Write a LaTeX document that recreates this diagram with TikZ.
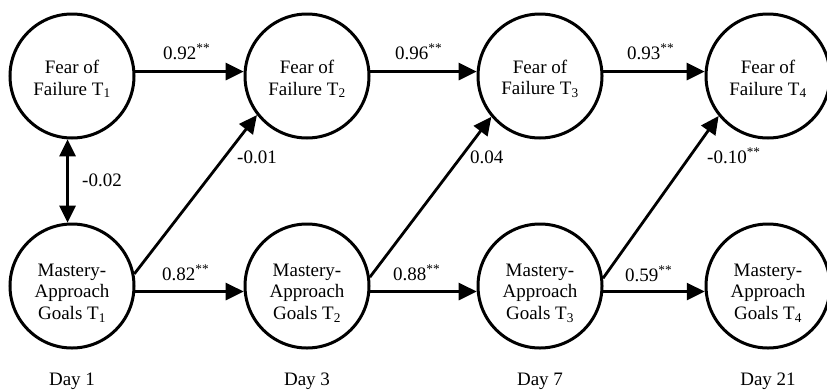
\documentclass[tikz,border=0pt]{standalone}
\usepackage{fontspec}
\setmainfont{Liberation Serif}
\usetikzlibrary{arrows.meta}
\begin{document}
\begin{tikzpicture}[x=1pt,y=-1pt,
  var/.style={circle, draw, line width=3pt, minimum size=124pt, inner sep=0pt},
  txt/.style={align=center, inner sep=0pt, font=\fontsize{19}{21.5}\selectfont},
  lbl/.style={font=\fontsize{19}{21.5}\selectfont, inner sep=0pt},
  conn/.style={line width=2.8pt, -{Triangle[length=18pt,width=17pt]}},
  dconn/.style={line width=2.8pt, {Triangle[length=17pt,width=16pt]}-{Triangle[length=17pt,width=16pt]}},
  ]
\useasboundingbox (0,0) rectangle (827,389);
% circles
\node[var] (t1) at (72,76) {};
\node[var] (t2) at (307,76) {};
\node[var] (t3) at (540,76) {};
\node[var] (t4) at (768,76) {};
\node[var] (b1) at (72,286) {};
\node[var] (b2) at (307,286) {};
\node[var] (b3) at (540,286) {};
\node[var] (b4) at (768,286) {};
% texts
\node[txt] (t1x) at (72,79) {Fear of\\Failure T\textsubscript{1}};
\node[txt] (t2x) at (307,79) {Fear of\\Failure T\textsubscript{2}};
\node[txt] (t3x) at (540,79) {Fear of\\Failure T\textsubscript{3}};
\node[txt] (t4x) at (768,79) {Fear of\\Failure T\textsubscript{4}};
\node[txt] (b1x) at (72,293) {Mastery-\\Approach\\Goals T\textsubscript{1}};
\node[txt] (b2x) at (307,293) {Mastery-\\Approach\\Goals T\textsubscript{2}};
\node[txt] (b3x) at (540,293) {Mastery-\\Approach\\Goals T\textsubscript{3}};
\node[txt] (b4x) at (768,293) {Mastery-\\Approach\\Goals T\textsubscript{4}};
% connectors
\draw[conn] (t1.4) -- (t2.176);
\draw[conn] (t2.4) -- (t3.176);
\draw[conn] (t3.4) -- (t4.176);
\draw[conn] (b1.-5) -- (b2.185);
\draw[conn] (b2.-5) -- (b3.185);
\draw[conn] (b3.-5) -- (b4.185);
\draw[conn] (b1.11) -- (t2.218);
\draw[conn] (b2.8) -- (t3.220);
\draw[conn] (b3.7) -- (t4.219);
\draw[dconn] (t1.266) -- (b1.94);
% labels
\node[lbl, anchor=base west] (l1) at (163,59) {0.92\textsuperscript{**}};
\node[lbl, anchor=base west] (l2) at (395,59) {0.96\textsuperscript{**}};
\node[lbl, anchor=base west] (l3) at (627,59) {0.93\textsuperscript{**}};
\node[lbl, anchor=base west] (l4) at (162,280) {0.82\textsuperscript{**}};
\node[lbl, anchor=base west] (l5) at (393,280) {0.88\textsuperscript{**}};
\node[lbl, anchor=base west] (l6) at (625,281) {0.59\textsuperscript{**}};
\node[lbl, anchor=base west] (l7) at (237,163) {-0.01};
\node[lbl, anchor=base west] (l8) at (470,163) {0.04};
\node[lbl, anchor=base west] (l9) at (707,163) {-0.10\textsuperscript{**}};
\node[lbl, anchor=base west] (l10) at (82,186) {-0.02};
% days
\node[lbl, anchor=base] (d1) at (72,385) {Day 1};
\node[lbl, anchor=base] (d2) at (307,385) {Day 3};
\node[lbl, anchor=base] (d3) at (540,385) {Day 7};
\node[lbl, anchor=base] (d4) at (768,385) {Day 21};
\end{tikzpicture}
\end{document}
